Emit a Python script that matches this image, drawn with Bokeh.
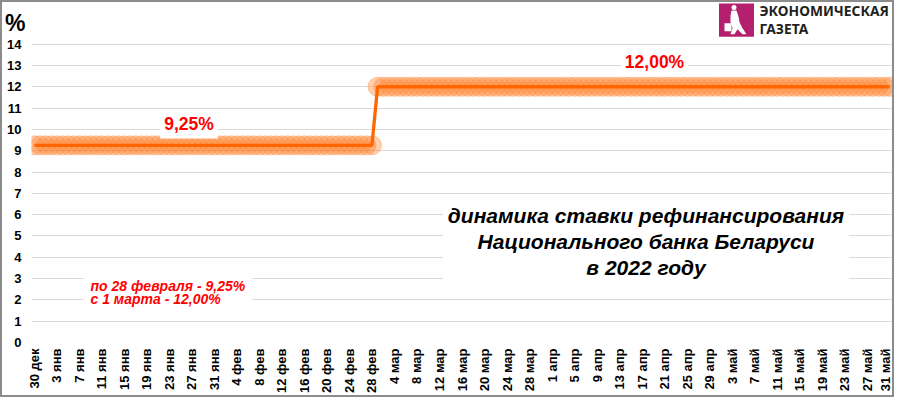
import pandas as pd
import numpy as np
from bokeh.plotting import figure
from bokeh.layouts import column
from bokeh.models import Label, FixedTicker, Range1d, ColumnDataSource, LinearAxis
from bokeh.embed import file_html
from bokeh.resources import INLINE

# ---------------- data ----------------
period_start = ["2021-12-30", "2022-03-01"]
period_end = ["2022-02-28", "2022-05-31"]
period_rate = [9.25, 12.00]

tick_labels = ["30 дек", "3 янв", "7 янв", "11 янв", "15 янв", "19 янв", "23 янв", "27 янв", "31 янв",
               "4 фев", "8 фев", "12 фев", "16 фев", "20 фев", "24 фев", "28 фев",
               "4 мар", "8 мар", "12 мар", "16 мар", "20 мар", "24 мар", "28 мар",
               "1 апр", "5 апр", "9 апр", "13 апр", "17 апр", "21 апр", "25 апр", "29 апр",
               "3 май", "7 май", "11 май", "15 май", "19 май", "23 май", "27 май", "31 май"]
y_ticks = list(range(0, 15))

unit_label = "%"
label_old = "9,25%"
label_new = "12,00%"
note_text = "по 28 февраля - 9,25%\nс 1 марта - 12,00%"
title_text = "динамика ставки рефинансирования\nНационального банка Беларуси\nв 2022 году"
logo_line1 = "ЭКОНОМИЧЕСКАЯ"
logo_line2 = "ГАЗЕТА"

# daily series built from the rate periods
days, rates = [], []
for s, e, r in zip(period_start, period_end, period_rate):
    for d in pd.date_range(s, e):
        days.append(d)
        rates.append(r)
xi = list(range(len(days)))
tick_step = 4
tick_pos = xi[::tick_step]

# ---------------- layout ----------------
W, H = 890, 393          # inner figure (2px CSS border around it -> 894x397)
OFF = 2                  # border width
BL, BR, BT, BB = 29, 0, 1, 50
frame_w = W - BL - BR
X0, X1 = -0.5, len(days) - 0.5
Y0_PX = H - BB           # figure px of y = 0
Y14_PX = 42              # figure px of y = 14
PX_PER_UNIT = (Y0_PX - Y14_PX) / 14
Y_TOP = (Y0_PX - BT) / PX_PER_UNIT

def scr2data(sx, sy):
    """page pixel -> data coordinates (for placing annotations only)"""
    fx, fy = sx - OFF, sy - OFF
    return (X0 + (fx - BL) / frame_w * (X1 - X0), (Y0_PX - fy) / PX_PER_UNIT)

FONT = "Liberation Sans"
ORANGE = "#ff6600"

p = figure(width=W, height=H, x_range=Range1d(X0, X1), y_range=Range1d(0, Y_TOP),
           output_backend="svg", toolbar_location=None, tools="",
           min_border_left=BL, min_border_right=BR, min_border_top=BT, min_border_bottom=BB)
p.outline_line_color = None
p.background_fill_color = "white"
p.border_fill_color = "white"
p.xgrid.visible = False

yax = p.yaxis[0]
xax = p.xaxis[0]
yax.ticker = FixedTicker(ticks=y_ticks)
p.ygrid.ticker = FixedTicker(ticks=y_ticks)
p.ygrid.grid_line_color = "#d9d9d9"
p.ygrid.grid_line_width = 1

xax.ticker = FixedTicker(ticks=tick_pos)
xax.major_label_overrides = {t: l for t, l in zip(tick_pos, tick_labels)}
xax.major_label_orientation = np.pi / 2

# second left axis only carries the "%" unit mark above the value labels
unit_y = 15
uax = LinearAxis(ticker=FixedTicker(ticks=[unit_y]), major_label_overrides={unit_y: unit_label})
p.add_layout(uax, "left")

for ax in (xax, yax, uax):
    ax.axis_line_color = None
    ax.major_tick_line_color = None
    ax.minor_tick_line_color = None
    ax.major_tick_out = 0
    ax.major_tick_in = 0
    ax.minor_tick_out = 0
    ax.minor_tick_in = 0
    ax.major_label_text_font = FONT
    ax.major_label_text_font_style = "bold"
    ax.major_label_text_color = "black"
xax.major_label_text_font_size = "13px"
yax.major_label_text_font_size = "13px"
uax.major_label_text_font_size = "23px"
xax.major_label_standoff = 6
yax.major_label_standoff = 10
uax.major_label_standoff = -21

# ---------------- series ----------------
src = ColumnDataSource(dict(x=xi, rate=rates))
p.scatter("x", "rate", source=src, size=19, fill_color="#ff7a1f", fill_alpha=0.36,
          line_color="#ffa466", line_alpha=0.6, line_width=1)
p.line("x", "rate", source=src, line_color=ORANGE, line_width=3.3)

# ---------------- annotations ----------------
def add_label(sx, sy, text, **kw):
    x, y = scr2data(sx, sy)
    opts = dict(text_font=FONT, text_font_style="bold", text_align="center",
                text_baseline="middle")
    opts.update(kw)
    p.add_layout(Label(x=x, y=y, text=text, **opts))

add_label(188.5, 125, label_old, text_font_size="17.5px", text_color="#ff0000",
          background_fill_color="white", padding=4)
add_label(654, 62.5, label_new, text_font_size="17.5px", text_color="#ff0000",
          background_fill_color="white", padding=4)
add_label(645.5, 243, title_text, text_font_size="21px", text_color="black",
          text_font_style="bold italic", text_line_height=1.13,
          background_fill_color="white", padding=5)
add_label(83, 295, note_text, text_font_size="14px", text_color="#ff0000",
          text_font_style="bold italic", text_align="left", text_line_height=0.82,
          background_fill_color="white", padding=7)

# logo
lx, ly = scr2data(736, 19.5)
p.rect(x=[lx], y=[ly], width=35, height=34, width_units="screen",
       height_units="screen", fill_color="#b5206e", line_color=None)
body_px = [(731, 10), (736, 10), (738, 16), (739, 22), (742, 28), (746, 34), (742, 34),
           (737, 29), (734, 34), (730, 34), (732, 28), (730, 22), (730, 15)]
bx, by = zip(*[scr2data(a, b) for a, b in body_px])
p.patch(list(bx), list(by), fill_color="white", line_color=None)
bag_px = [(724, 23), (731, 23), (731, 31), (724, 31)]
gx, gy = zip(*[scr2data(a, b) for a, b in bag_px])
p.patch(list(gx), list(gy), fill_color="white", line_color=None)
hx, hy = scr2data(733.5, 7)
p.scatter([hx], [hy], size=5, fill_color="white", line_color=None)

add_label(759, 10.5, logo_line1, text_font="Noto Sans", text_font_size="13.8px",
          text_color="#231f20", text_align="left")
add_label(759, 28, logo_line2, text_font="Noto Sans", text_font_size="13.8px",
          text_color="#231f20", text_align="left")

layout = column(p, styles={"border": "2px solid #8c8c8c"})
open("out.html", "w").write(file_html(layout, INLINE))
